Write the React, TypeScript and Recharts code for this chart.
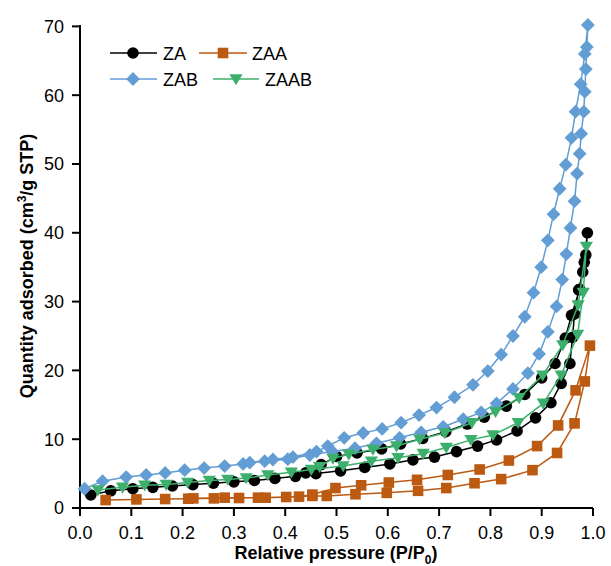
import React from "react";
import { ScatterChart, Scatter, XAxis, YAxis, Label } from "recharts";

type Pt = [number, number];

const xTicks = [0, 0.1, 0.2, 0.3, 0.4, 0.5, 0.6, 0.7, 0.8, 0.9, 1.0];
const yTicks = [0, 10, 20, 30, 40, 50, 60, 70];

// ZA
const zaAds: Pt[] = [
  [0.021, 1.9], [0.06, 2.5], [0.103, 2.8], [0.142, 3.0], [0.18, 3.2], [0.22, 3.4],
  [0.26, 3.6], [0.3, 3.8], [0.34, 4.0], [0.38, 4.3], [0.42, 4.6], [0.46, 5.0],
  [0.508, 5.4], [0.555, 5.9], [0.604, 6.4], [0.649, 7.0], [0.691, 7.4], [0.734, 8.2],
  [0.775, 9.0], [0.812, 9.9], [0.852, 11.2], [0.888, 13.1], [0.918, 15.3], [0.938, 18.1],
  [0.955, 21.0], [0.96, 24.8], [0.964, 28.2], [0.972, 31.7], [0.98, 34.3], [0.986, 36.8],
  [0.989, 40.0],
];
const zaDes: Pt[] = [
  [0.983, 35.7], [0.974, 31.8], [0.958, 28.0], [0.946, 24.7], [0.926, 21.0], [0.9, 18.9],
  [0.867, 16.5], [0.831, 14.8], [0.788, 13.2], [0.755, 12.2], [0.713, 11.1], [0.668, 10.1],
  [0.625, 9.3], [0.588, 8.6], [0.54, 8.0], [0.5, 7.5], [0.47, 6.3], [0.44, 5.1],
];

// ZAA
const zaaAds: Pt[] = [
  [0.05, 1.15], [0.11, 1.25], [0.166, 1.3], [0.211, 1.35], [0.261, 1.4], [0.31, 1.45],
  [0.347, 1.5], [0.402, 1.6], [0.453, 1.75], [0.481, 1.75], [0.537, 2.0], [0.598, 2.2],
  [0.659, 2.5], [0.714, 2.9], [0.769, 3.6], [0.821, 4.2], [0.882, 5.5], [0.93, 8.0],
  [0.964, 12.3], [0.984, 18.4], [0.994, 23.6],
];
const zaaDes: Pt[] = [
  [0.966, 17.1], [0.932, 12.0], [0.891, 9.0], [0.836, 6.9], [0.779, 5.6], [0.717, 4.8],
  [0.657, 4.1], [0.602, 3.7], [0.548, 3.3], [0.498, 2.9], [0.453, 1.95], [0.427, 1.65],
  [0.362, 1.5], [0.282, 1.5], [0.221, 1.4],
];

// ZAB
const zabAds: Pt[] = [
  [0.009, 2.8], [0.044, 3.9], [0.09, 4.5], [0.129, 4.8], [0.166, 5.1], [0.204, 5.5],
  [0.242, 5.8], [0.282, 6.1], [0.318, 6.4], [0.36, 6.8], [0.405, 7.1], [0.448, 7.7],
  [0.492, 8.2], [0.536, 8.7], [0.578, 9.4], [0.623, 10.2], [0.665, 11.0], [0.708, 11.8],
  [0.747, 12.9], [0.782, 13.9], [0.812, 15.2], [0.844, 17.3], [0.873, 19.6], [0.895, 22.4],
  [0.912, 25.6], [0.929, 29.3], [0.94, 33.2], [0.948, 36.9], [0.956, 40.7], [0.964, 44.6],
  [0.969, 48.6], [0.974, 51.5], [0.977, 54.4], [0.982, 57.6], [0.984, 60.5], [0.986, 63.8],
  [0.988, 67.0], [0.99, 70.2],
];
const zabDes: Pt[] = [
  [0.984, 66.0], [0.976, 61.6], [0.966, 57.6], [0.958, 53.8], [0.947, 49.9], [0.935, 46.4],
  [0.923, 42.7], [0.912, 38.9], [0.899, 35.0], [0.884, 31.3], [0.867, 27.8], [0.844, 25.0],
  [0.821, 22.3], [0.795, 19.9], [0.766, 17.9], [0.73, 16.1], [0.695, 14.6], [0.661, 13.5],
  [0.626, 12.4], [0.589, 11.5], [0.552, 10.9], [0.515, 10.2], [0.483, 9.0], [0.461, 8.2],
  [0.415, 7.4], [0.376, 7.05], [0.331, 6.6],
];

// ZAAB
const zaabAds: Pt[] = [
  [0.035, 2.6], [0.083, 3.0], [0.126, 3.3], [0.168, 3.4], [0.21, 3.7], [0.252, 4.0],
  [0.288, 4.15], [0.324, 4.35], [0.366, 4.8], [0.412, 5.2], [0.451, 5.6], [0.513, 6.1],
  [0.568, 6.8], [0.62, 7.3], [0.669, 7.9], [0.714, 8.8], [0.762, 9.9], [0.805, 10.6],
  [0.854, 12.4], [0.903, 15.2], [0.938, 19.3], [0.97, 25.2], [0.981, 31.3], [0.987, 38.0],
];
const zaabDes: Pt[] = [
  [0.971, 29.5], [0.941, 23.7], [0.902, 19.3], [0.856, 16.0], [0.81, 14.0], [0.764, 12.4],
  [0.711, 10.9], [0.662, 10.0], [0.617, 9.0], [0.571, 8.5], [0.524, 7.8], [0.493, 7.2],
  [0.467, 6.0],
];

const COLORS = { za: "#000000", zaa: "#BC5A12", zab: "#629DD4", zaab: "#3BAF6B" };
const FONT = "'Liberation Sans', Arial, sans-serif";

// adsorption up, desorption back down, as one connected path
const loop = (ads: Pt[], des: Pt[]) => [...ads, ...des].map(([x, y]) => ({ x, y }));

const CircleDot = (p: any) => <circle cx={p.cx} cy={p.cy} r={5.8} fill={COLORS.za} />;
const SquareDot = (p: any) => (
  <rect x={p.cx - 5.3} y={p.cy - 5.3} width={10.6} height={10.6} fill={COLORS.zaa} />
);
const DiamondDot = (p: any) => (
  <polygon
    points={`${p.cx},${p.cy - 6.9} ${p.cx + 6.9},${p.cy} ${p.cx},${p.cy + 6.9} ${p.cx - 6.9},${p.cy}`}
    fill={COLORS.zab}
  />
);
const TriDot = (p: any) => (
  <polygon
    points={`${p.cx - 6.6},${p.cy - 4.8} ${p.cx + 6.6},${p.cy - 4.8} ${p.cx},${p.cy + 6.3}`}
    fill={COLORS.zaab}
  />
);

const YTitle = () => (
  <text
    x={33}
    y={266}
    transform="rotate(-90, 33, 266)"
    textAnchor="middle"
    fontFamily={FONT}
    fontWeight="bold"
    fontSize={18}
    fill="#000"
  >
    Quantity adsorbed (cm<tspan dy={-7} fontSize={12}>3</tspan>
    <tspan dy={7}>/g STP)</tspan>
  </text>
);

const XTitle = () => (
  <text x={336} y={559} textAnchor="middle" fontFamily={FONT} fontWeight="bold" fontSize={18} fill="#000">
    Relative pressure (P/P<tspan dy={5} fontSize={12}>0</tspan>
    <tspan dy={-5}>)</tspan>
  </text>
);

const LegendBox = () => (
  <svg
    width={420}
    height={110}
    style={{ position: "absolute", left: 0, top: 0, pointerEvents: "none" }}
    fontFamily={FONT}
    fontSize={18}
  >
    <line x1={110} x2={157} y1={53} y2={53} stroke={COLORS.za} strokeWidth={1.5} />
    <circle cx={133} cy={53} r={5.8} fill={COLORS.za} />
    <text x={163} y={59.5} fill="#000">ZA</text>
    <line x1={199} x2={247} y1={53} y2={53} stroke={COLORS.zaa} strokeWidth={1.5} />
    <rect x={217.7} y={47.7} width={10.6} height={10.6} fill={COLORS.zaa} />
    <text x={252} y={59.5} fill="#000">ZAA</text>
    <line x1={110} x2={157} y1={79} y2={79} stroke={COLORS.zab} strokeWidth={1.5} />
    <polygon points="133,72.1 139.9,79 133,85.9 126.1,79" fill={COLORS.zab} />
    <text x={163} y={85.5} fill="#000">ZAB</text>
    <line x1={213} x2={259} y1={79} y2={79} stroke={COLORS.zaab} strokeWidth={1.5} />
    <polygon points="229.4,74.2 242.6,74.2 236,85.3" fill={COLORS.zaab} />
    <text x={265} y={85.5} fill="#000">ZAAB</text>
  </svg>
);

const tickStyle = { fill: "#000", fontSize: 18, fontFamily: FONT };
const axisLine = { stroke: "#000", strokeWidth: 2 };

export default function App() {
  return (
    <div style={{ position: "absolute", left: 0, top: 0, width: 611, height: 566 }}>
      <ScatterChart width={611} height={566} margin={{ top: 25, right: 18, bottom: 0, left: 0 }}>
        <XAxis
          type="number"
          dataKey="x"
          domain={[0, 1]}
          ticks={xTicks}
          tickFormatter={(v: number) => v.toFixed(1)}
          height={58}
          tickSize={8}
          tickMargin={10}
          tick={tickStyle}
          axisLine={axisLine}
          tickLine={axisLine}
          interval={0}
        >
          <Label content={XTitle} />
        </XAxis>
        <YAxis
          type="number"
          dataKey="y"
          domain={[0, 70]}
          ticks={yTicks}
          width={80}
          tickSize={8}
          tickMargin={8}
          tick={tickStyle}
          axisLine={axisLine}
          tickLine={axisLine}
          interval={0}
        >
          <Label content={YTitle} />
        </YAxis>
        <Scatter
          name="ZA"
          data={loop(zaAds, zaDes)}
          line={{ stroke: COLORS.za, strokeWidth: 1.5 }}
          lineType="joint"
          shape={CircleDot}
          isAnimationActive={false}
        />
        <Scatter
          name="ZAA"
          data={loop(zaaAds, zaaDes)}
          line={{ stroke: COLORS.zaa, strokeWidth: 1.5 }}
          lineType="joint"
          shape={SquareDot}
          isAnimationActive={false}
        />
        <Scatter
          name="ZAB"
          data={loop(zabAds, zabDes)}
          line={{ stroke: COLORS.zab, strokeWidth: 1.5 }}
          lineType="joint"
          shape={DiamondDot}
          isAnimationActive={false}
        />
        <Scatter
          name="ZAAB"
          data={loop(zaabAds, zaabDes)}
          line={{ stroke: COLORS.zaab, strokeWidth: 1.5 }}
          lineType="joint"
          shape={TriDot}
          isAnimationActive={false}
        />
      </ScatterChart>
      <LegendBox />
    </div>
  );
}
